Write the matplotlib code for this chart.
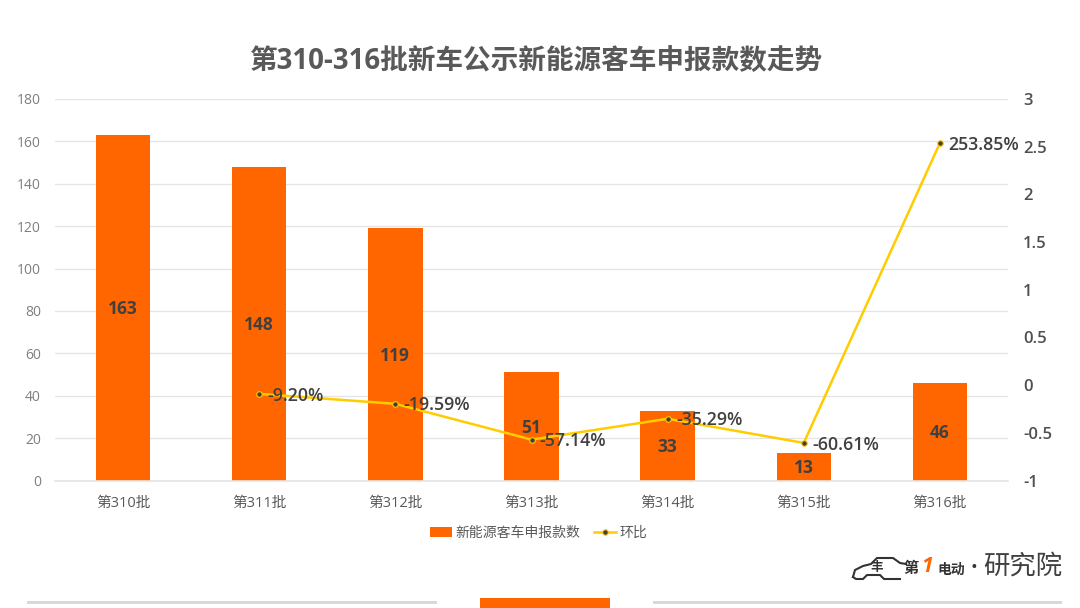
import matplotlib
matplotlib.use('Agg')
import numpy as np
import matplotlib.pyplot as plt
from matplotlib.patches import Rectangle

plt.rcParams['font.family'] = ['Open Sans', 'Noto Sans CJK SC', 'DejaVu Sans']

batches = ['第310批', '第311批', '第312批', '第313批', '第314批', '第315批', '第316批']
counts = [163, 148, 119, 51, 33, 13, 46]
mom = [np.nan, -0.0920, -0.1959, -0.5714, -0.3529, -0.6061, 2.5385]
mom_labels = ['', '-9.20%', '-19.59%', '-57.14%', '-35.29%', '-60.61%', '253.85%']
left_ticks = [0, 20, 40, 60, 80, 100, 120, 140, 160, 180]
right_ticks = [-1, -0.5, 0, 0.5, 1, 1.5, 2, 2.5, 3]
right_labels = ['-1', '-0.5', '0', '0.5', '1', '1.5', '2', '2.5', '3']

ORANGE = '#ff6600'
YELLOW = '#ffcc00'
W, H = 1080, 608

fig = plt.figure(figsize=(W / 100, H / 100), dpi=100, facecolor='white')
ax = fig.add_axes([55 / W, 1 - 480.5 / H, 953 / W, 381.5 / H])
ax2 = ax.twinx()

x = np.arange(len(batches))
bars = ax.bar(x, counts, width=0.4, color=ORANGE, label='新能源客车申报款数', zorder=2)
ax.set_xlim(-0.5, len(batches) - 0.5)
ax.set_ylim(0, 180)
ax.set_yticks(left_ticks)
ax.set_xticks(x)
ax.set_xticklabels(batches, fontsize=10.5, color='#595959', fontweight='medium')
ax.tick_params(axis='x', length=0, pad=11.5)
ax.tick_params(axis='y', length=0, pad=10, labelsize=10, labelcolor='#7f7f7f')
ax.grid(axis='y', color='#e4e4e4', linewidth=0.9, zorder=0)
ax.set_axisbelow(True)
for side in ['top', 'left', 'right']:
    ax.spines[side].set_visible(False)
ax.spines['bottom'].set_color('#e4e4e4')
ax.spines['bottom'].set_linewidth(1.2)

for xi, c in zip(x, counts):
    ax.annotate(str(c), (xi, c / 2), xytext=(0, -1), textcoords='offset points',
                ha='center', va='center', fontsize=12.5,
                fontweight='bold', color='#404040', zorder=5)

line, = ax2.plot(x, mom, color=YELLOW, linewidth=1.8, marker='o', markersize=4,
                 markerfacecolor='#404040', markeredgecolor=YELLOW, markeredgewidth=0.8,
                 label='环比', zorder=4)
ax2.set_ylim(-1, 3)
ax2.set_yticks(right_ticks)
ax2.set_yticklabels(right_labels)
ax2.tick_params(axis='y', length=0, pad=11, labelsize=12, labelcolor='#505050')
for label in ax2.get_yticklabels():
    label.set_fontweight('semibold')
for side in ['top', 'left', 'right', 'bottom']:
    ax2.spines[side].set_visible(False)

for xi, v, s in zip(x, mom, mom_labels):
    if s:
        ax2.annotate(s, (xi, v), xytext=(6, -1.2), textcoords='offset points',
                     ha='left', va='center', fontsize=12.8, fontweight='semibold',
                     color='#404040', zorder=6)

fig.text(536 / W, 1 - 61.5 / H, '第310-316批新车公示新能源客车申报款数走势', ha='center', va='center',
         fontsize=19.9, fontweight='bold', color='#595959')

fig.legend(handles=[bars, line], loc='center', bbox_to_anchor=(538.5 / W, 1 - 533.5 / H),
           ncol=2, frameon=False, fontsize=10, labelcolor='#595959', handlelength=1.6,
           handletextpad=0.25, columnspacing=1.0, borderpad=0)

# footer strip
fig.add_artist(Rectangle((27 / W, 4 / H), 410 / W, 3 / H, transform=fig.transFigure,
                         facecolor='#d9d9d9', edgecolor='none'))
fig.add_artist(Rectangle((653 / W, 4 / H), 409 / W, 3 / H, transform=fig.transFigure,
                         facecolor='#d9d9d9', edgecolor='none'))
fig.add_artist(Rectangle((480 / W, 0), 130 / W, 10 / H, transform=fig.transFigure,
                         facecolor=ORANGE, edgecolor='none'))

# logo
car_x = [853, 855, 863, 871, 877, 893, 900, 906]
car_y = [577, 570, 566, 564, 558, 558, 563, 564]
fig.add_artist(plt.Line2D([v / W for v in car_x], [1 - v / H for v in car_y],
                          color='#333333', linewidth=1.5))
car_x2 = [853, 856, 863, 867, 880, 884, 900]
car_y2 = [577, 579, 579, 575, 575, 579, 579]
fig.add_artist(plt.Line2D([v / W for v in car_x2], [1 - v / H for v in car_y2],
                          color='#333333', linewidth=1.5))
fig.text(877 / W, 1 - 567.5 / H, '丰', ha='center', va='center', fontsize=9,
         fontweight='bold', color='#333333')
fig.text(911 / W, 1 - 569 / H, '第', ha='center', va='center', fontsize=11,
         fontweight='bold', color='#333333')
fig.text(927 / W, 1 - 566 / H, '1', ha='center', va='center', fontsize=15,
         fontweight='bold', style='italic', color=ORANGE)
fig.text(951 / W, 1 - 570 / H, '电动', ha='center', va='center', fontsize=10,
         fontweight='bold', color='#333333')
fig.text(973.5 / W, 1 - 568 / H, '•', ha='center', va='center', fontsize=13, color='#333333')
fig.text(1023 / W, 1 - 567.5 / H, '研究院', ha='center', va='center', fontsize=19,
         fontweight='light', color='#404040')

fig.savefig('out.png', dpi=100)
